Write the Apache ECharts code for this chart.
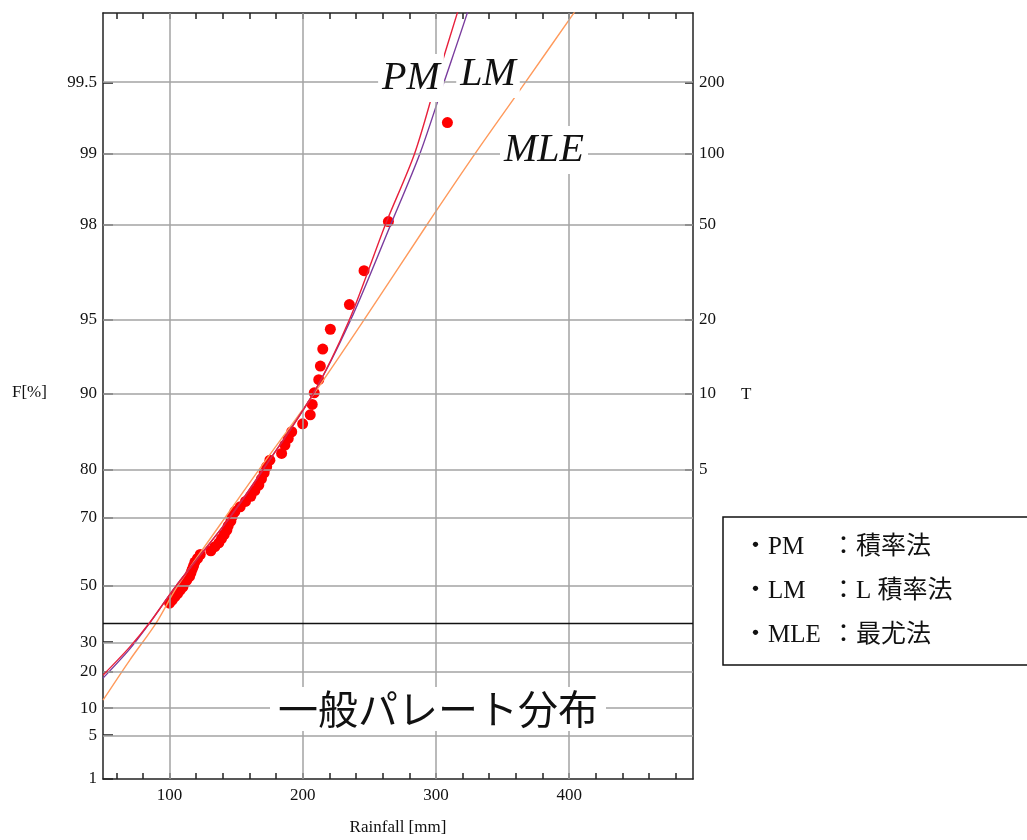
<!DOCTYPE html>
<html><head><meta charset="utf-8">
<script src="https://cdn.jsdelivr.net/npm/echarts@6/dist/echarts.min.js"></script>
<style>html,body{margin:0;padding:0;background:#fff}#c{width:1027px;height:840px}</style>
</head><body><div id="c"></div>
<script>
// ---- tick labels ----
const fTicks = [1, 5, 10, 20, 30, 50, 70, 80, 90, 95, 98, 99, 99.5];   // non-exceedance prob. [%]
const tTicks = [5, 10, 20, 50, 100, 200];                               // return period
const xLabelTicks = [100, 200, 300, 400];
const xMinorTicks = [60, 80, 100, 120, 140, 160, 180, 200, 220, 240, 260, 280, 300, 320, 340, 360, 380, 400, 420, 440, 460, 480];
const refLineF = 36.788;   // reduced variate 0

// ---- observed (plotting positions) ----
const obsRain = [100, 102, 104, 106, 108, 110, 111, 113, 115, 116, 117, 118, 119, 121, 123,
  131, 134, 137, 139, 141, 143, 144, 146, 147, 149, 153, 157, 161, 164, 167, 169, 171,
  172.9, 175.3, 184.1, 186.6, 189.1, 191.7, 199.9, 205.6, 207.1, 208.6, 212.0, 213.2, 215.0,
  220.7, 235.0, 246.0, 264.3, 308.6];
const obsF = [43.9, 45.0, 46.2, 47.3, 48.5, 49.6, 50.8, 51.9, 53.1, 54.2, 55.4, 56.5, 57.7, 58.8, 60.0,
  61.1, 62.3, 63.4, 64.6, 65.7, 66.9, 68.0, 69.2, 70.3, 71.5, 72.6, 73.8, 74.9, 76.1, 77.2, 78.4, 79.5,
  80.55, 81.65, 82.71, 83.95, 84.89, 85.77, 86.76, 87.81, 88.92, 90.05, 91.19, 92.25, 93.40,
  94.53, 95.68, 96.88, 98.06, 99.26];

// ---- fitted curves ----
const pmRain = [50, 70, 85, 105, 145, 170, 208, 235, 262, 284, 300, 316, 319];
const pmF = [18.9, 28.2, 36.9, 50.0, 70.0, 80.0, 90.0, 95.0, 98.0, 99.0, 99.5, 99.746, 99.776];
const lmRain = [50, 70, 85, 105, 145, 170, 208, 236, 266, 288, 306, 323.5, 326];
const lmF = [18.0, 27.5, 36.8, 50.0, 70.0, 80.0, 90.0, 95.0, 98.0, 99.0, 99.5, 99.746, 99.776];
const mleRain = [50, 70, 90, 106, 142, 167, 208.6, 245, 292, 329.5, 365, 403.5, 410];
const mleF = [11.9, 23.7, 36.9, 49.9, 70.2, 80.0, 90.0, 94.9, 97.95, 99.0, 99.48, 99.746, 99.775];

// ---- legend text ----
const legendKeys = ['・PM', '・LM', '・MLE'];
const legendDesc = ['：積率法', '：L 積率法', '：最尤法'];

const yTopF = 99.7463;
const xMin = 50, xMax = 493;

// Gumbel reduced variate scale
const g = f => -Math.log(-Math.log(f / 100));
const fromT = t => 100 * (1 - 1 / t);
const pairs = (xs, fs) => xs.map((x, i) => [x, g(fs[i])]);

const serif = "'Liberation Serif','DejaVu Serif',serif";
const fTickV = fTicks.map(g);
const tTickV = tTicks.map(t => g(fromT(t)));
const nearest = (v, vals, labs) => {
  let bi = 0, bd = Infinity;
  vals.forEach((w, i) => { const d = Math.abs(w - v); if (d < bd) { bd = d; bi = i; } });
  return bd < 1e-3 ? String(labs[bi]) : '';
};

const axisLineStyle = { color: '#222', width: 1.5 };
const tickStyle = { color: '#222', width: 1.5 };
const gridStyle = { color: '#a3a3a3', width: 1.5, type: 'solid' };

const gridLines = [];
xLabelTicks.forEach(x => gridLines.push({ xAxis: x, lineStyle: gridStyle }));
fTickV.forEach(v => gridLines.push({ yAxis: v, lineStyle: gridStyle }));
gridLines.push({ yAxis: g(refLineF), lineStyle: { color: '#111', width: 1.3, type: 'solid' } });

const legendGraphics = [];
legendKeys.forEach((k, i) => {
  const y = 547 + i * 44;
  legendGraphics.push({ type: 'text', z: 101, x: 743, y, style: { text: k, font: `25px ${serif},'Noto Sans CJK JP'`, fill: '#111', verticalAlign: 'middle' } });
  legendGraphics.push({ type: 'text', z: 101, x: 831, y, style: { text: legendDesc[i], font: `25px ${serif},'Noto Sans CJK JP'`, fill: '#111', verticalAlign: 'middle' } });
});

const chart = echarts.init(document.getElementById('c'));
chart.setOption({
  animation: false,
  backgroundColor: '#fff',
  grid: { left: 103, right: 334, top: 13, bottom: 61 },
  xAxis: [
    { type: 'value', position: 'bottom', min: xMin, max: xMax,
      axisLine: { show: true, onZero: false, lineStyle: axisLineStyle },
      axisTick: { show: true, inside: true, length: 6, customValues: xMinorTicks, lineStyle: tickStyle },
      axisLabel: { customValues: xLabelTicks, margin: 8, fontFamily: serif, fontSize: 17, color: '#111' },
      splitLine: { show: false } },
    { type: 'value', position: 'top', min: xMin, max: xMax,
      axisLine: { show: true, onZero: false, lineStyle: axisLineStyle },
      axisTick: { show: true, inside: true, length: 6, customValues: xMinorTicks, lineStyle: tickStyle },
      axisLabel: { show: false }, splitLine: { show: false } }
  ],
  yAxis: [
    { type: 'value', position: 'left', min: g(1), max: g(yTopF),
      axisLine: { show: true, onZero: false, lineStyle: axisLineStyle },
      axisTick: { show: true, inside: true, length: 10, customValues: fTickV, lineStyle: tickStyle },
      axisLabel: { customValues: fTickV, margin: 6, fontFamily: serif, fontSize: 17, color: '#111',
        formatter: v => nearest(v, fTickV, fTicks) },
      splitLine: { show: false } },
    { type: 'value', position: 'right', min: g(1), max: g(yTopF),
      axisLine: { show: true, onZero: false, lineStyle: axisLineStyle },
      axisTick: { show: true, inside: true, length: 8, customValues: tTickV, lineStyle: tickStyle },
      axisLabel: { customValues: tTickV, margin: 6, fontFamily: serif, fontSize: 17, color: '#111',
        formatter: v => nearest(v, tTickV, tTicks) },
      splitLine: { show: false } }
  ],
  series: [
    { type: 'line', name: 'grid', data: [], z: 1, silent: true,
      markLine: { silent: true, symbol: ['none', 'none'], label: { show: false }, animation: false, data: gridLines } },
    { type: 'scatter', name: 'obs', data: pairs(obsRain, obsF), symbolSize: 11, z: 3,
      itemStyle: { color: '#ff0000', opacity: 1 } },
    { type: 'line', name: 'MLE', data: pairs(mleRain, mleF), showSymbol: false, smooth: 0.3, z: 4, clip: true,
      lineStyle: { color: '#ff9a5c', width: 1.4 } },
    { type: 'line', name: 'LM', data: pairs(lmRain, lmF), showSymbol: false, smooth: 0.3, z: 4, clip: true,
      lineStyle: { color: '#7a3c9e', width: 1.4 } },
    { type: 'line', name: 'PM', data: pairs(pmRain, pmF), showSymbol: false, smooth: 0.3, z: 5, clip: true,
      lineStyle: { color: '#e8203c', width: 1.4 } }
  ],
  graphic: [
    { type: 'text', z: 100, left: 12, top: 384, style: { text: 'F[%]', font: `17px ${serif}`, fill: '#111' } },
    { type: 'text', z: 100, left: 741, top: 386, style: { text: 'T', font: `17px ${serif}`, fill: '#111' } },
    { type: 'text', z: 100, x: 398, y: 828, style: { text: 'Rainfall [mm]', font: `17px ${serif}`, fill: '#111', align: 'center', verticalAlign: 'middle' } },
    { type: 'text', z: 100, x: 411, y: 78, style: { text: 'PM', font: `italic 40px ${serif}`, fill: '#111', align: 'center', verticalAlign: 'middle', backgroundColor: '#fff', padding: [4, 4] } },
    { type: 'text', z: 100, x: 488, y: 74, style: { text: 'LM', font: `italic 40px ${serif}`, fill: '#111', align: 'center', verticalAlign: 'middle', backgroundColor: '#fff', padding: [4, 4] } },
    { type: 'text', z: 100, x: 544, y: 150, style: { text: 'MLE', font: `italic 40px ${serif}`, fill: '#111', align: 'center', verticalAlign: 'middle', backgroundColor: '#fff', padding: [4, 4] } },
    { type: 'text', z: 100, x: 438, y: 709, style: { text: '一般パレート分布', font: `40px 'Noto Sans CJK JP',sans-serif`, fill: '#111', align: 'center', verticalAlign: 'middle', backgroundColor: '#fff', padding: [2, 8] } },
    { type: 'rect', z: 100, shape: { x: 723, y: 517, width: 320, height: 148 }, style: { fill: '#fff', stroke: '#111', lineWidth: 1.5 } }
  ].concat(legendGraphics)
});
</script>
</body></html>
